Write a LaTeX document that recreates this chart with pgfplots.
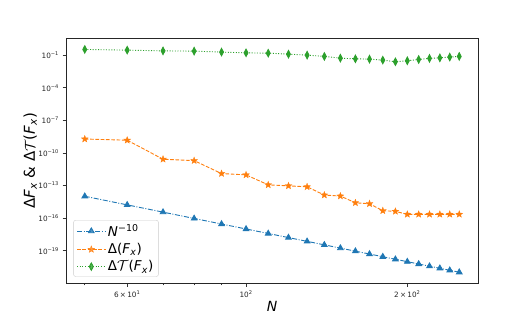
\documentclass[border=0pt]{standalone}
\usepackage{fontspec}
\setmainfont{DejaVu Sans}
\usepackage{pgfplots}
\pgfplotsset{compat=1.18}
\definecolor{tblue}{HTML}{1F77B4}
\definecolor{torange}{HTML}{FF7F0E}
\definecolor{tgreen}{HTML}{2CA02C}
\pgfdeclareplotmark{fstar}{%
  \pgfpathmoveto{\pgfqpointpolar{90}{\pgfplotmarksize}}%
  \pgfpathlineto{\pgfqpointpolar{126}{0.42\pgfplotmarksize}}%
  \pgfpathlineto{\pgfqpointpolar{162}{\pgfplotmarksize}}%
  \pgfpathlineto{\pgfqpointpolar{198}{0.42\pgfplotmarksize}}%
  \pgfpathlineto{\pgfqpointpolar{234}{\pgfplotmarksize}}%
  \pgfpathlineto{\pgfqpointpolar{270}{0.42\pgfplotmarksize}}%
  \pgfpathlineto{\pgfqpointpolar{306}{\pgfplotmarksize}}%
  \pgfpathlineto{\pgfqpointpolar{342}{0.42\pgfplotmarksize}}%
  \pgfpathlineto{\pgfqpointpolar{18}{\pgfplotmarksize}}%
  \pgfpathlineto{\pgfqpointpolar{54}{0.42\pgfplotmarksize}}%
  \pgfpathclose
  \pgfusepathqfillstroke}
\begin{document}
\begin{tikzpicture}[x=1pt,y=1pt]
\useasboundingbox (0,0) rectangle (532,319);
\begin{axis}[
  at={(66pt,35.7pt)}, anchor=south west,
  scale only axis, width=412pt, height=245pt,
  xmode=log, ymode=log,
  xmin=46.13, xmax=271.0, ymin=1e-22, ymax=3.53,
  axis line style={black!85, line width=0.8pt},
  tick align=outside, xtick pos=lower, ytick pos=left,
  major tick length=3.5pt, minor tick length=2pt,
  tick style={black!80, line width=0.6pt},
  xtick={60,100,200},
  xticklabels={6\,×\,10\textsuperscript{1}, 10\textsuperscript{2}, 2\,×\,10\textsuperscript{2}},
  minor xtick={50,70,80,90},
  ytick={1e-1,1e-4,1e-7,1e-10,1e-13,1e-16,1e-19},
  yticklabels={10\textsuperscript{−1},10\textsuperscript{−4},10\textsuperscript{−7},10\textsuperscript{−10},10\textsuperscript{−13},10\textsuperscript{−16},10\textsuperscript{−19}},
  minor ytick={},
  ticklabel style={font=\fontsize{7.3}{8}\selectfont, text=black!85},
  xlabel={\textit{N}},
  xlabel style={at={(axis description cs:0.5,-0.094)}, anchor=center, font=\fontsize{14}{16}\selectfont},
  ylabel={Δ\textit{F}\textsubscript{\textit{x}} \& Δ$\mathcal{T}$(\textit{F}\textsubscript{\textit{x}})},
  ylabel style={at={(axis description cs:-0.087,0.5)}, anchor=center, font=\fontsize{15}{17}\selectfont},
  legend style={at={(0.018,0.027)}, anchor=south west, draw=black!20, rounded corners=2pt,
    font=\fontsize{13.5}{15}\selectfont, fill=white, fill opacity=0.8, text opacity=1,
    inner xsep=3pt, inner ysep=2pt, row sep=1.5pt},
  legend cell align=left,
  legend image code/.code={\draw[mark repeat=2,mark phase=2] plot coordinates {(0cm,0cm) (0.5cm,0cm) (1cm,0cm)};},
]
\addplot[tblue, line width=0.9pt, dash pattern=on 5pt off 1.6pt on 1pt off 1.6pt,
  mark=triangle*, mark size=3.2pt, mark options={solid}] coordinates {
(50,1.024e-14) (60,1.654e-15) (70,3.54e-16) (80,9.31e-17) (90,2.87e-17)
(100,1e-17) (110,3.855e-18) (120,1.615e-18) (130,7.25e-19) (140,3.46e-19)
(150,1.734e-19) (160,9.09e-20) (170,4.96e-20) (180,2.80e-20) (190,1.631e-20)
(200,9.77e-21) (210,5.99e-21) (220,3.765e-21) (230,2.414e-21) (240,1.577e-21)
(250,1.048e-21)};
\addlegendentry{\textit{N}\textsuperscript{−10}}
\addplot[torange, line width=0.9pt, dash pattern=on 3.7pt off 1.6pt,
  mark=fstar, mark size=3.6pt, mark options={solid, fill=torange, line width=0.3pt}] coordinates {
(50,1.9e-9) (60,1.48e-9) (70,2.63e-11) (80,1.95e-11) (90,1.26e-12)
(100,9.5e-13) (110,1.15e-13) (120,9.3e-14) (130,7.6e-14) (140,1.32e-14)
(150,1.07e-14) (160,2.57e-15) (170,2.09e-15) (180,4.8e-16) (190,4.2e-16)
(200,2.24e-16) (210,2.24e-16) (220,2.24e-16) (230,2.24e-16) (240,2.24e-16)
(250,2.24e-16)};
\addlegendentry{Δ(\textit{F}\textsubscript{\textit{x}})}
\addplot[tgreen, line width=0.9pt, dash pattern=on 1pt off 1.65pt,
  mark=diamond*, mark size=3.7pt, mark options={solid, xscale=0.7}] coordinates {
(50,0.333) (60,0.288) (70,0.245) (80,0.234) (90,0.19)
(100,0.162) (110,0.151) (120,0.123) (130,0.1) (140,0.0759)
(150,0.0525) (160,0.0457) (170,0.0427) (180,0.0347) (190,0.0245)
(200,0.0302) (210,0.0398) (220,0.0501) (230,0.0562) (240,0.066)
(250,0.0759)};
\addlegendentry{Δ$\mathcal{T}$(\textit{F}\textsubscript{\textit{x}})}
\end{axis}
\end{tikzpicture}
\end{document}
